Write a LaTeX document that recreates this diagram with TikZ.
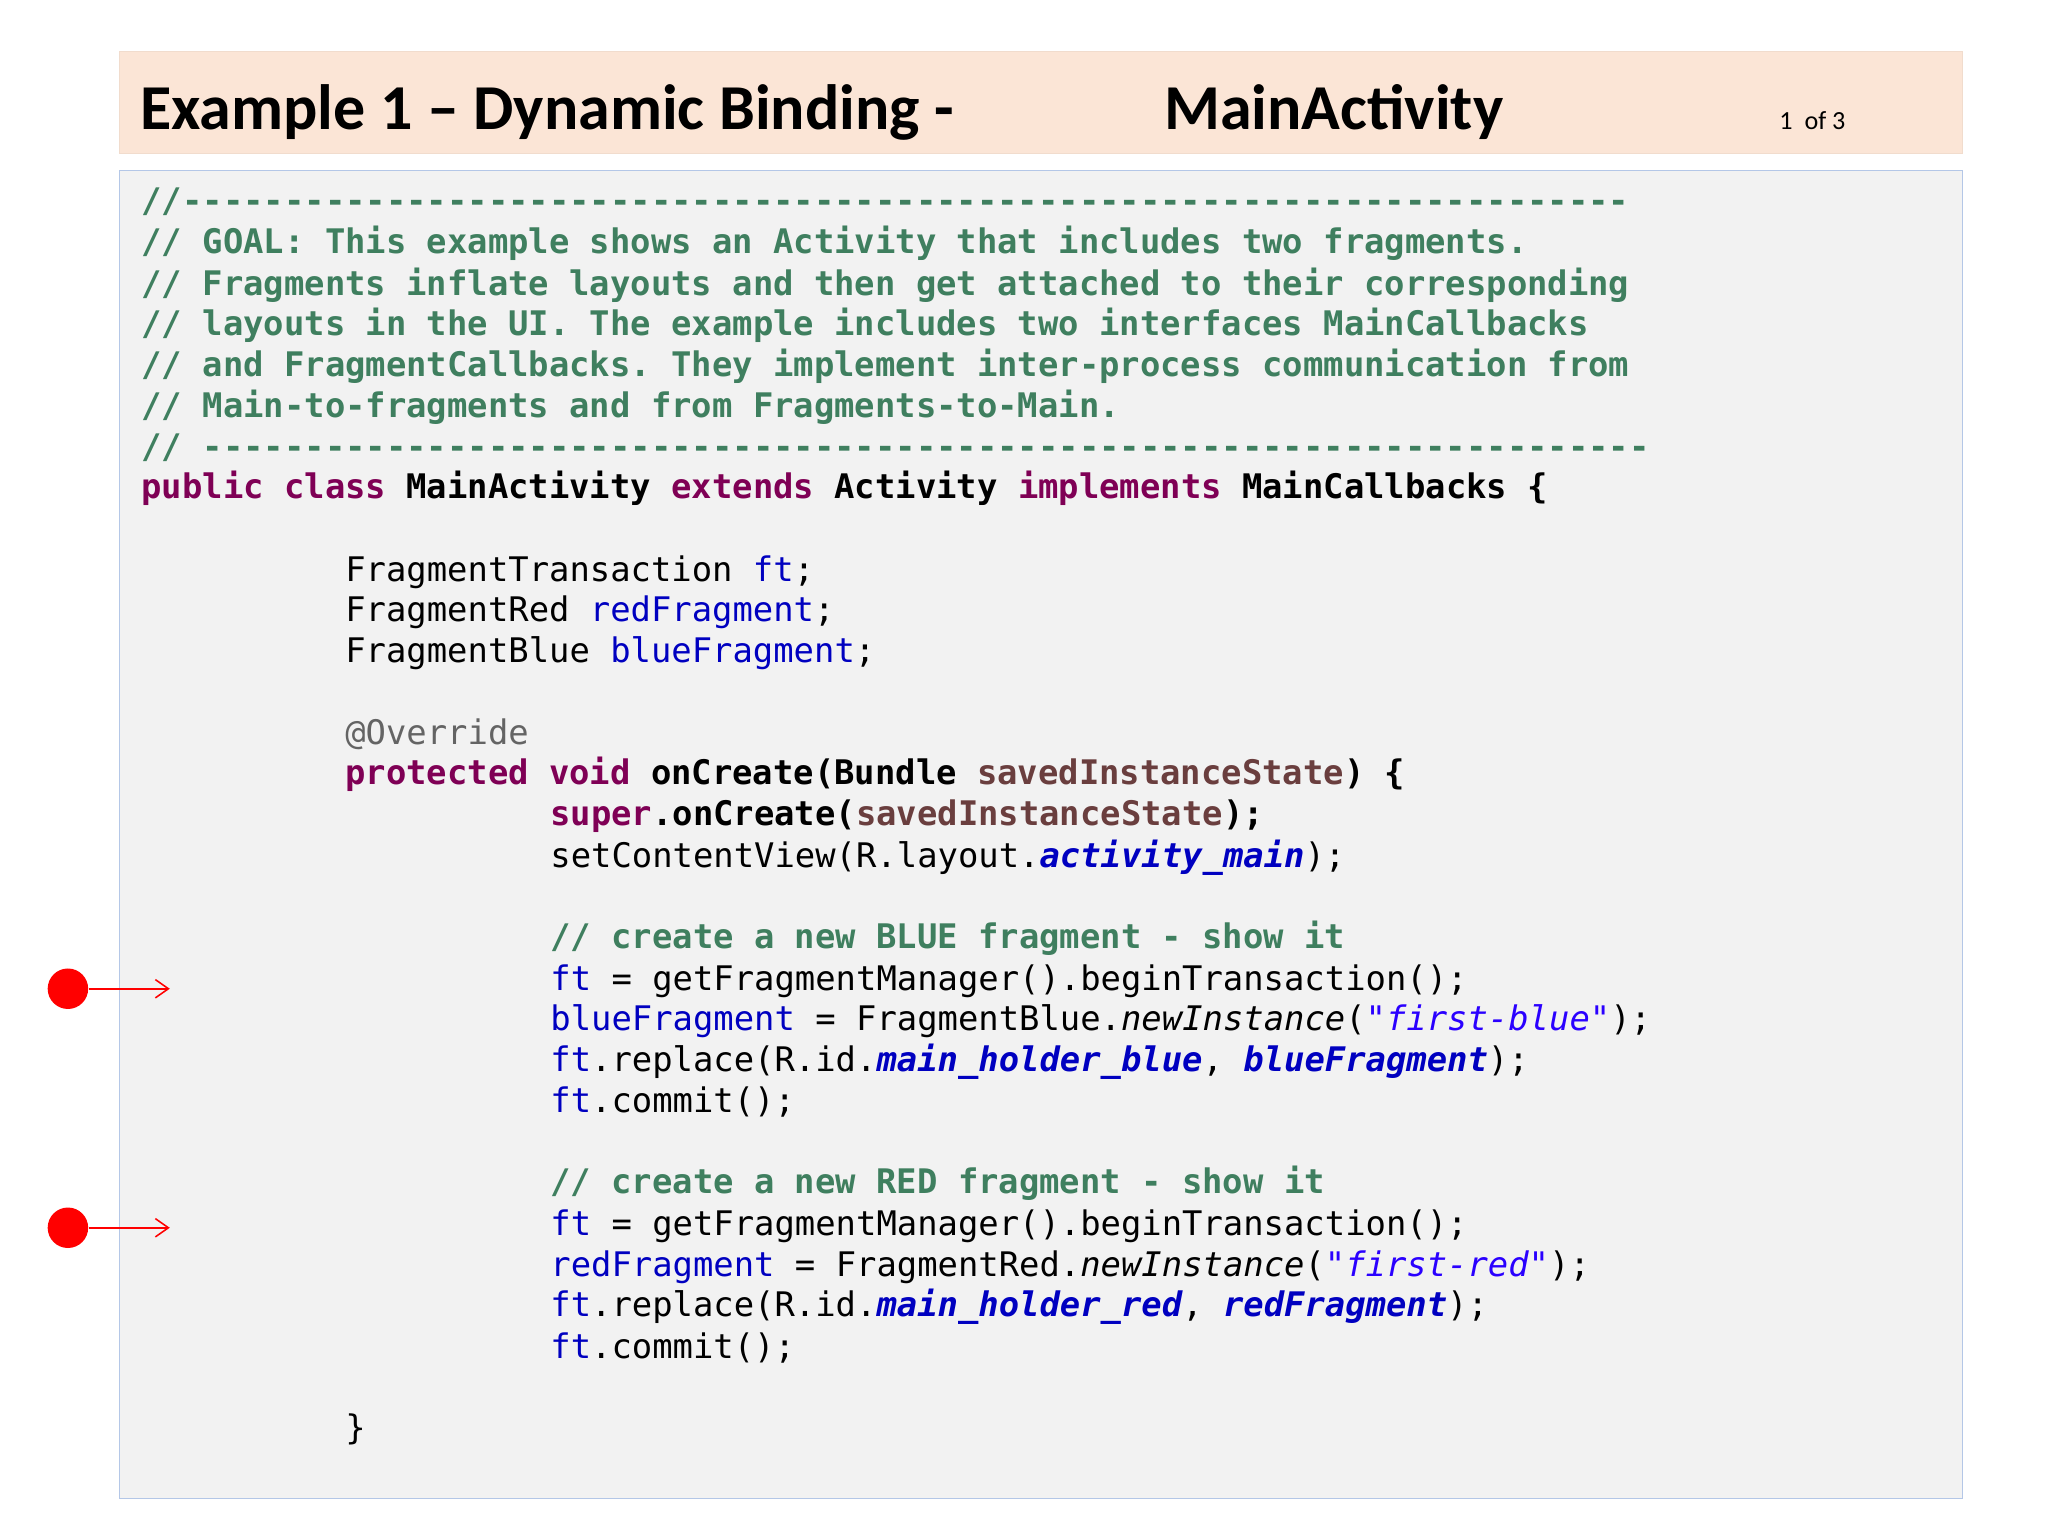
\documentclass[tikz,border=0pt]{standalone}
\usepackage{fontspec}
\setmainfont{Carlito}
\setmonofont{DejaVu Sans Mono}
\usetikzlibrary{arrows.meta}
\definecolor{cmt}{HTML}{3F7F5F}
\definecolor{kwc}{HTML}{7F0055}
\definecolor{fdc}{HTML}{0000C0}
\definecolor{pac}{HTML}{6A3E3E}
\definecolor{stc}{HTML}{2A00FF}
\definecolor{anc}{HTML}{646464}
\definecolor{peach}{HTML}{FBE5D6}
\definecolor{codebg}{HTML}{F2F2F2}
\definecolor{codebd}{HTML}{B4C7E7}
\newcommand{\Cm}[1]{\textcolor{cmt}{\bfseries #1}}
\newcommand{\Kw}[1]{\textcolor{kwc}{\bfseries #1}}
\newcommand{\Fd}[1]{\textcolor{fdc}{#1}}
\newcommand{\Fdi}[1]{\textcolor{fdc}{\bfseries\itshape #1}}
\newcommand{\Pa}[1]{\textcolor{pac}{#1}}
\newcommand{\St}[1]{\textcolor{stc}{\itshape #1}}
\newcommand{\An}[1]{\textcolor{anc}{#1}}
\begin{document}
\begin{tikzpicture}[x=0.5pt,y=-0.5pt,
  code/.style={anchor=base west,inner sep=0pt,font=\fontsize{12.96}{15}\ttfamily},
  dot/.style={circle,fill=red,inner sep=0pt,minimum size=15.5pt},
  pointer/.style={red,line width=0.6pt,-{Straight Barb[length=5pt,width=7pt]}}]
\useasboundingbox (0,0) rectangle (1568,1176);
\fill[white] (0,0) rectangle (1568,1176);
\node[draw=peach!80!black!20!peach,fill=peach,minimum width=705.5pt,minimum height=39pt,inner sep=0pt,anchor=north west] (title) at (91,39) {};
\node[anchor=base west,inner sep=0pt,font=\fontsize{24.5}{28}\bfseries] (t1) at (107,99) {Example 1 – Dynamic Binding -};
\node[anchor=base west,inner sep=0pt,font=\fontsize{24.5}{28}\bfseries] (t2) at (891,99) {MainActivity};
\node[anchor=base west,inner sep=0pt,font=\fontsize{16}{18}] (t3) at (1362,99) {1\ \ of 3};
\node[draw=codebd,fill=codebg,minimum width=705.5pt,minimum height=508.5pt,inner sep=0pt,anchor=north west] (codebox) at (91,130) {};
% lines
\node[code] (l1) at (108,163) {\Cm{//-----------------------------------------------------------------------}};
\node[code] (l2) at (108,194) {\Cm{// GOAL: This example shows an Activity that includes two fragments.}};
\node[code] (l3) at (108,226) {\Cm{// Fragments inflate layouts and then get attached to their corresponding}};
\node[code] (l4) at (108,257) {\Cm{// layouts in the UI. The example includes two interfaces MainCallbacks}};
\node[code] (l5) at (108,288) {\Cm{// and FragmentCallbacks. They implement inter-process communication from}};
\node[code] (l6) at (108,320) {\Cm{// Main-to-fragments and from Fragments-to-Main.}};
\node[code] (l7) at (108,351) {\Cm{// -----------------------------------------------------------------------}};
\node[code] (l8) at (108,382) {\Kw{public class} \textbf{MainActivity} \Kw{extends} \textbf{Activity} \Kw{implements} \textbf{MainCallbacks \{}};
\node[code] (l9) at (264,445) {FragmentTransaction \Fd{ft};};
\node[code] (l10) at (264,476) {FragmentRed \Fd{redFragment};};
\node[code] (l11) at (264,507) {FragmentBlue \Fd{blueFragment};};
\node[code] (l12) at (264,570) {\An{@Override}};
\node[code] (l13) at (264,601) {\Kw{protected void} \textbf{onCreate(Bundle} \Pa{\bfseries savedInstanceState}\textbf{) \{}};
\node[code] (l14) at (421,632) {\Kw{super}\textbf{.onCreate(}\Pa{\bfseries savedInstanceState}\textbf{);}};
\node[code] (l15) at (421,664) {setContentView(R.layout.\Fdi{activity\_main});};
\node[code] (l16) at (421,726) {\Cm{// create a new BLUE fragment - show it}};
\node[code] (l17) at (421,758) {\Fd{ft} = getFragmentManager().beginTransaction();};
\node[code] (l18) at (421,789) {\Fd{blueFragment} = FragmentBlue.\textit{newInstance}(\St{"first-blue"});};
\node[code] (l19) at (421,820) {\Fd{ft}.replace(R.id.\Fdi{main\_holder\_blue}, \Fdi{blueFragment});};
\node[code] (l20) at (421,852) {\Fd{ft}.commit();};
\node[code] (l21) at (421,914) {\Cm{// create a new RED fragment - show it}};
\node[code] (l22) at (421,946) {\Fd{ft} = getFragmentManager().beginTransaction();};
\node[code] (l23) at (421,977) {\Fd{redFragment} = FragmentRed.\textit{newInstance}(\St{"first-red"});};
\node[code] (l24) at (421,1008) {\Fd{ft}.replace(R.id.\Fdi{main\_holder\_red}, \Fdi{redFragment});};
\node[code] (l25) at (421,1040) {\Fd{ft}.commit();};
\node[code] (l26) at (264,1102) {\}};
% markers
\node[dot] (d1) at (52,757) {};
\node[dot] (d2) at (52,940) {};
\coordinate (e1) at (130,757);
\coordinate (e2) at (130,940);
\draw[pointer] (d1.east) -- (e1);
\draw[pointer] (d2.east) -- (e2);
\end{tikzpicture}
\end{document}
